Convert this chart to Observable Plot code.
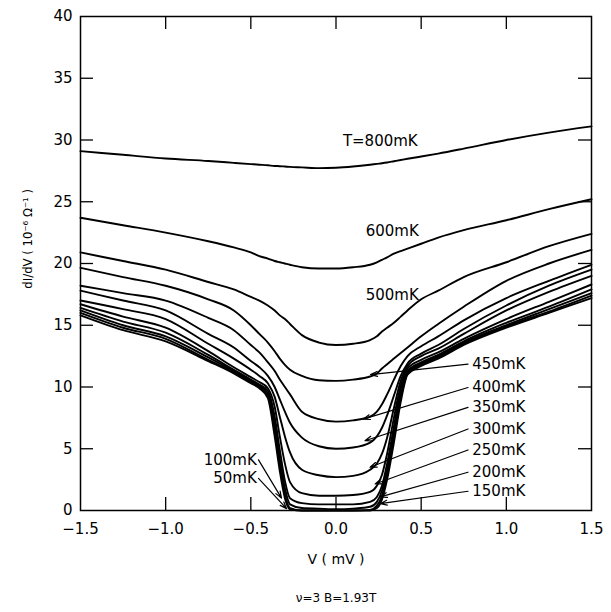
<!DOCTYPE html>
<html>
<head>
<meta charset="utf-8">
<script src="https://cdn.jsdelivr.net/npm/d3@7"></script>
<script src="https://cdn.jsdelivr.net/npm/@observablehq/plot@0.6"></script>
<style>
  html, body { margin: 0; padding: 0; background: #fff; }
</style>
</head>
<body>
<div id="chart"></div>
<script>
// ---- data ----
const V = [-1.5, -1.25, -1.0, -0.75, -0.6, -0.5, -0.45, -0.4, -0.36, -0.33, -0.3, -0.27, -0.2, -0.1, 0, 0.1, 0.2, 0.24, 0.27, 0.3, 0.34, 0.38, 0.42, 0.5, 0.6, 0.75, 1.0, 1.25, 1.5];

const g800 = [29.1, 28.8, 28.5, 28.3, 28.15, 28.05, 28.0, 27.95, 27.9, 27.88, 27.85, 27.82, 27.78, 27.72, 27.75, 27.85, 28.0, 28.07, 28.12, 28.18, 28.28, 28.38, 28.48, 28.66, 28.9, 29.3, 30.0, 30.6, 31.1];
const g600 = [23.7, 23.1, 22.5, 21.8, 21.3, 20.9, 20.6, 20.4, 20.2, 20.1, 20.0, 19.9, 19.7, 19.6, 19.6, 19.7, 19.9, 20.1, 20.3, 20.5, 20.8, 21.0, 21.2, 21.6, 22.1, 22.7, 23.5, 24.4, 25.2];
const g500 = [20.9, 20.2, 19.5, 18.5, 17.9, 17.3, 17.0, 16.6, 16.2, 15.8, 15.5, 15.1, 14.2, 13.6, 13.4, 13.5, 13.8, 14.1, 14.5, 14.8, 15.2, 15.7, 16.2, 17.1, 17.8, 18.9, 20.1, 21.4, 22.4];
const g450 = [19.65, 18.9, 18.2, 17.1, 16.2, 15.0, 14.3, 13.6, 12.9, 12.3, 11.8, 11.4, 10.9, 10.55, 10.5, 10.6, 10.85, 11.1, 11.5, 11.85, 12.3, 12.75, 13.2, 14.1, 15.1, 16.5, 18.6, 20.0, 21.1];
const g400 = [18.2, 17.6, 17.0, 15.6, 14.6, 13.4, 12.8, 12.0, 11.3, 10.6, 10.0, 9.4, 8.0, 7.4, 7.2, 7.3, 7.6, 8.0, 8.6, 9.4, 10.6, 11.7, 12.5, 13.3, 14.1, 15.4, 17.2, 18.6, 19.9];
const g350 = [17.8, 17.0, 16.2, 14.3, 13.2, 12.1, 11.6, 10.9, 10.0, 9.0, 8.0, 7.1, 5.9, 5.2, 5.0, 5.1, 5.5, 6.0, 6.7, 7.7, 9.3, 10.9, 11.9, 12.7, 13.4, 14.7, 16.6, 18.2, 19.5];
const g300 = [17.0, 16.3, 15.5, 13.5, 12.3, 11.4, 10.9, 10.3, 9.2, 7.6, 6.0, 4.7, 3.3, 2.85, 2.7, 2.8, 3.3, 3.8, 4.6, 5.9, 8.3, 10.5, 11.7, 12.5, 13.1, 14.3, 16.2, 17.7, 19.0];
const g250 = [16.7, 15.7, 14.8, 12.9, 11.6, 10.8, 10.4, 9.9, 8.4, 6.0, 3.8, 2.3, 1.4, 1.2, 1.2, 1.25, 1.5, 2.0, 2.9, 4.6, 7.5, 10.1, 11.5, 12.2, 12.8, 13.9, 15.5, 16.9, 18.3];
const g200 = [16.4, 15.3, 14.4, 12.6, 11.4, 10.6, 10.2, 9.7, 7.6, 4.9, 2.4, 1.0, 0.6, 0.5, 0.5, 0.5, 0.7, 1.1, 2.0, 3.8, 6.8, 9.7, 11.3, 12.0, 12.6, 13.7, 15.2, 16.5, 17.9];
const g150 = [16.2, 15.0, 14.1, 12.4, 11.3, 10.5, 10.1, 9.5, 7.0, 4.2, 1.8, 0.5, 0.2, 0.15, 0.1, 0.15, 0.3, 0.7, 1.6, 3.3, 6.3, 9.4, 11.2, 11.9, 12.5, 13.6, 15.0, 16.3, 17.6];
const g100 = [16.0, 14.8, 13.9, 12.2, 11.2, 10.4, 10.0, 9.3, 6.4, 3.6, 1.3, 0.2, 0, 0, 0, 0, 0.05, 0.4, 1.2, 2.9, 5.9, 9.1, 11.1, 11.8, 12.4, 13.5, 14.9, 16.1, 17.4];
const g50  = [15.8, 14.6, 13.7, 12.1, 11.1, 10.3, 9.9, 9.1, 6.0, 3.2, 1.0, 0.1, 0, 0, 0, 0, 0, 0.2, 0.9, 2.5, 5.5, 8.8, 11.0, 11.7, 12.3, 13.4, 14.8, 16.0, 17.2];

const temps = ["800", "600", "500", "450", "400", "350", "300", "250", "200", "150", "100", "50"];
const series = [g800, g600, g500, g450, g400, g350, g300, g250, g200, g150, g100, g50];

// plain labels placed beside curves
const plainLabels = ["T=800mK", "600mK", "500mK"];
const plainLabelV = [0.26, 0.33, 0.33];
const plainLabelG = [29.9, 22.6, 17.4];

// right-hand arrow labels
const rightLabels = ["450mK", "400mK", "350mK", "300mK", "250mK", "200mK", "150mK"];
const rightLabelG = [11.85, 9.96, 8.35, 6.6, 4.9, 3.1, 1.56];
const rightTipV = [0.203, 0.16, 0.17, 0.20, 0.23, 0.26, 0.26];
const rightTipG = [11.0, 7.4, 5.65, 3.5, 2.15, 1.1, 0.55];
const rightLabelV = 0.80;
const rightTailV = 0.775;

// left-hand arrow labels
const leftLabels = ["100mK", "50mK"];
const leftLabelG = [4.1, 2.6];
const leftTipV = [-0.32, -0.29];
const leftTipG = [1.0, 0.15];
const leftLabelV = -0.465;
const leftTailV = -0.455;

const xTickLabels = [-1.5, -1.0, -0.5, 0.0, 0.5, 1.0, 1.5];
const yTickLabels = [0, 5, 10, 15, 20, 25, 30, 35, 40];
const xInnerTicks = [-1.0, -0.5, 0.0, 0.5, 1.0];
const yInnerTicks = [5, 10, 15, 20, 25, 30, 35];

const xTitle = "V ( mV )";
const yTitle = "dI/dV ( 10⁻⁶ Ω⁻¹ )";
const yTitleG = 22;
const caption = "ν=3 B=1.93T";

const xDomain = [-1.5, 1.5];
const yDomain = [0, 40];

// ---- build tables ----
const rows = [];
series.forEach((s, i) => s.forEach((g, j) => rows.push({T: temps[i], v: V[j], g})));

const W = 611, H = 612;
const mL = 80, mR = 20, mT = 16, mB = 102;
const tickPx = 13;
const tickX = tickPx * (xDomain[1] - xDomain[0]) / (W - mL - mR);
const tickY = tickPx * (yDomain[1] - yDomain[0]) / (H - mT - mB);

const rightArrows = rightLabels.map((l, i) => ({l, x1: rightTailV, y1: rightLabelG[i], x2: rightTipV[i], y2: rightTipG[i], lx: rightLabelV}));
const leftArrows = leftLabels.map((l, i) => ({l, x1: leftTailV, y1: leftLabelG[i], x2: leftTipV[i], y2: leftTipG[i], lx: leftLabelV}));
const plain = plainLabels.map((l, i) => ({l, x: plainLabelV[i], y: plainLabelG[i]}));

const fmt = d3.format(".1f");

const chart = Plot.plot({
  width: W, height: H,
  marginLeft: mL, marginRight: mR, marginTop: mT, marginBottom: mB,
  style: {fontFamily: "DejaVu Sans", fontSize: "15px", background: "#fff", color: "#000"},
  x: {domain: xDomain},
  y: {domain: yDomain},
  marks: [
    Plot.axisX(xTickLabels, {anchor: "bottom", tickSize: 0, tickPadding: 13, tickFormat: fmt, label: null, fontSize: 15}),
    Plot.axisY(yTickLabels, {anchor: "left", tickSize: 0, tickPadding: 8, label: null, fontSize: 15}),
    // inward ticks
    Plot.ruleX(xInnerTicks, {y1: yDomain[0], y2: yDomain[0] + tickY, stroke: "#000", strokeWidth: 1.3}),
    Plot.ruleX(xInnerTicks, {y1: yDomain[1], y2: yDomain[1] - tickY, stroke: "#000", strokeWidth: 1.3}),
    Plot.ruleY(yInnerTicks, {x1: xDomain[0], x2: xDomain[0] + tickX, stroke: "#000", strokeWidth: 1.3}),
    Plot.ruleY(yInnerTicks, {x1: xDomain[1], x2: xDomain[1] - tickX, stroke: "#000", strokeWidth: 1.3}),
    Plot.frame({stroke: "#000", strokeWidth: 1.5}),
    Plot.line(rows, {x: "v", y: "g", z: "T", curve: "monotone-x", stroke: "#000", strokeWidth: 1.9}),
    Plot.arrow(rightArrows, {x1: "x1", y1: "y1", x2: "x2", y2: "y2", stroke: "#000", strokeWidth: 1.2, headLength: 9, headAngle: 40}),
    Plot.arrow(leftArrows, {x1: "x1", y1: "y1", x2: "x2", y2: "y2", stroke: "#000", strokeWidth: 1.2, headLength: 9, headAngle: 40}),
    Plot.text(rightArrows, {x: "lx", y: "y1", text: "l", textAnchor: "start", fill: "#000", fontSize: 15}),
    Plot.text(leftArrows, {x: "lx", y: "y1", text: "l", textAnchor: "end", fill: "#000", fontSize: 15}),
    Plot.text(plain, {x: "x", y: "y", text: "l", fill: "#000", fontSize: 15}),
    // axis titles and caption
    Plot.text([xTitle], {frameAnchor: "bottom", dy: 53, fill: "#000", fontSize: 14}),
    Plot.text([caption], {frameAnchor: "bottom", dy: 91, fill: "#000", fontSize: 12, letterSpacing: "1.2px"}),
    Plot.text([yTitle], {x: () => xDomain[0], y: () => yTitleG, dx: -53, rotate: -90, fill: "#000", fontSize: 13, fontFamily: "DejaVu Sans Condensed"})
  ]
});
document.getElementById("chart").appendChild(chart);
</script>
</body>
</html>
